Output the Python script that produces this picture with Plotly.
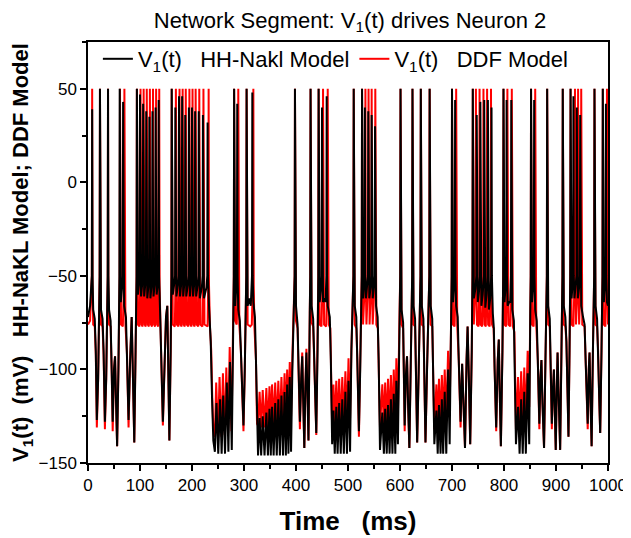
import plotly.graph_objects as go

# ---- data (time in ms, voltage in mV) ----
hh_trace = [
 (0,-72),(4,-66),(7.4,-50),(8,39),(8.7,-50),(10,-68),(13,-73),(15,-90),(17,-127),(19.5,-105),(22.4,-50),(23,50),(23.7,-50),(25,-68),(28,-73),(30,-90),(32.5,-128),(35,-105),(37.9,-50),(38.5,50),(39.2,-50),(40.5,-68),(43.5,-74),(45.5,-100),(47.5,-128),(50,-100),(52,-93),(54,-118),(56,-141),(58.5,-100),(60.4,-50),(61,50),(61.7,-50),(63,-64),(66,-55),(66.9,-50),(67.5,43),(68.2,-50),(69.5,-66),(73,-72),(75,-90),(78,-127),(81,-95),(84,-72),(86.5,-105),(89,-139),(91.5,-90),(93.4,-50),
 (94,50),(94.7,-50),(96,-60),(98,-55),(99.4,-50),(100,47),(100.7,-50),(102,-61),(104,-55),(105.4,-50),(106,42),(106.7,-50),(108,-61),(110,-55),(111.4,-50),(112,38),(112.7,-50),(114,-62),(116,-56),(117.4,-50),(118,35),(118.7,-50),(120,-62),(122,-56),(123.4,-50),(124,38),(124.7,-50),(126,-61),(128,-55),(129.4,-50),(130,40),(130.7,-50),(132,-60),(134,-55),(135.4,-50),(136,44),(136.7,-50),(138.5,-68),(141,-90),(144,-128),(147,-100),(150,-72),(152.5,-66),(154.5,-100),(156.5,-138),(159,-90),(160.4,-50),
 (161,50),(161.7,-50),(163,-60),(166,-54),(167.4,-50),(168,40),(168.7,-50),(170,-61),(173,-55),(174.4,-50),(175,46),(175.7,-50),(177,-61),(179,-55),(180.4,-50),(181,46),(181.7,-50),(183,-61),(185,-55),(186.4,-50),(187,36),(187.7,-50),(189,-61),(192,-55),(193.4,-50),(194,40),(194.7,-50),(196,-61),(198,-55),(199.4,-50),(200,40),(200.7,-50),(202,-61),(204,-55),(205.4,-50),(206,38),(206.7,-50),(208,-61),(211,-55),(212.4,-50),(213,38),(213.7,-50),(215,-62),(219,-56),(220.4,-50),(221,36),(221.7,-50),(223,-62),(228,-56),(229.4,-50),(230,32),(230.7,-50),(233,-68),(236,-85),(238.5,-115),(241,-138),
 (244,-144),(247,-118),(250.5,-145),(254,-116),(257,-145),(260,-114),(263.5,-145),(267,-107),(270,-144),(273,-96),(276.5,-143),(279,-80),(280.4,-50),
 (281,50),(281.7,-50),(283,-66),(286.4,-50),(287,42),(287.7,-50),(289,-68),(292,-74),(294,-90),(296.5,-115),(299,-130),(301.5,-100),(304.4,-50),(305,50),(305.7,-50),(307,-66),(310,-62),(313,-66),(315.4,-50),(316,48),(316.7,-50),(318,-64),(321,-72),(323,-95),(325.5,-130),
 (327,-146),(330,-126),(333,-146),(336,-125),(339.5,-146),(343,-123),(346,-146),(349,-121),(351.5,-146),(354,-120),(357,-146),(360,-118),(363,-146),(366,-116),(369,-146),(372,-114),(375,-146),(378,-112),(380.5,-146),(383,-108),(385.5,-145),(388,-104),(390.5,-144),(393,-100),(395,-70),(397.4,-50),
 (398,50),(398.7,-50),(400,-66),(403,-76),(405,-100),(407.5,-128),(410,-105),(412,-93),(414,-118),(416,-142),(418,-110),(420,-91),(422,-112),(424,-138),(426.5,-70),(427.4,-50),(428,50),(428.7,-50),(430,-66),(433,-73),(435,-90),(437,-115),(439,-134),(441.5,-90),(442.9,-50),(443.5,50),(444.2,-50),(445.5,-64),(448,-58),(449.4,-50),(450,40),(450.7,-50),(452,-64),(455,-62),(457,-64),(458.4,-50),(459,46),(459.7,-50),(461,-66),(465,-72),(467,-95),(469.5,-140),
 (472,-122),(474.5,-145),(477.5,-120),(480,-145),(483,-118),(486,-145),(489,-116),(492,-145),(495,-112),(498,-145),(501,-106),(504,-144),(506.5,-90),(510.4,-50),
 (511,50),(511.7,-50),(513,-66),(516,-72),(518,-95),(521,-133),(523.5,-100),(526.4,-50),(527,50),(527.7,-50),(529,-62),(531.9,-50),(532.5,40),(533.2,-50),(534.5,-62),(537,-56),(538.4,-50),(539,38),(539.7,-50),(541,-62),(543.5,-56),(544.9,-50),(545.5,36),(546.2,-50),(547.5,-62),(550,-56),(551.4,-50),(552,30),(552.7,-50),(554,-66),(557,-72),(559,-95),(561.5,-143),
 (566,-123),(569,-145),(571.5,-121),(574.5,-145),(577,-119),(580,-145),(582.5,-116),(585.5,-145),(588,-113),(591,-145),(593,-106),(596,-140),(598.5,-80),(600.4,-50),
 (601,50),(601.7,-50),(603,-68),(606,-75),(607.5,-100),(609,-130),(611,-105),(613.5,-93),(615.5,-118),(618,-142),(620.5,-100),(623.4,-50),(624,50),(624.7,-50),(626,-66),(629,-73),(631,-100),(633,-139),(636,-100),(639.4,-50),(640,50),(640.7,-50),(642,-66),(645,-73),(647,-100),(649,-139),(652,-100),(656.4,-50),(657,50),(657.7,-50),(659,-66),(662,-73),(664,-100),(666,-140),
 (670,-122),(672.5,-145),(675,-119),(678,-145),(680.5,-116),(683,-145),(686,-112),(689,-145),(692.5,-100),(695.5,-140),(698,-80),(699.4,-50),
 (700,50),(700.7,-50),(702,-64),(705.4,-50),(706,44),(706.7,-50),(708,-66),(711,-72),(713,-95),(716.5,-128),(719.5,-97),(722,-120),(725,-142),(728,-95),(730,-77),(732.5,-105),(735,-140),(738,-90),(739.4,-50),
 (740,50),(740.7,-50),(742,-62),(745,-57),(746.9,-50),(747.5,36),(748.2,-50),(749.5,-64),(752,-58),(753.9,-50),(754.5,43),(755.2,-50),(756.5,-66),(759,-60),(761.4,-50),(762,44),(762.7,-50),(764,-67),(766.5,-60),(768.4,-50),(769,44),(769.7,-50),(771,-68),(773.5,-62),(775.4,-50),(776,40),(776.7,-50),(778.5,-70),(780.5,-78),(782,-100),(785,-131),(788,-95),(790,-84),(792,-115),(794,-141),(797,-90),(798.4,-50),
 (799,50),(799.7,-50),(801,-64),(804.4,-50),(805,44),(805.7,-50),(807,-66),(810,-64),(812,-64),(813.4,-50),(814,44),(814.7,-50),(816,-68),(819,-74),(821,-100),(823,-140),
 (827,-120),(830,-145),(833,-116),(836,-145),(839,-112),(842,-145),(845.5,-102),(848.5,-140),(850.5,-70),(851.4,-50),
 (852,50),(852.7,-50),(854,-64),(857.4,-50),(858,44),(858.7,-50),(860,-68),(863,-74),(865,-95),(868,-129),(870,-105),(872,-95),(874,-118),(877,-142),(880,-90),(882.4,-50),(883,50),(883.7,-50),(885,-66),(888,-73),(890,-100),(892,-129),(894,-112),(896,-100),(898,-125),(899.5,-143),(901.5,-110),(903,-91),(905.5,-118),(908,-143),(910.5,-90),(912.4,-50),
 (913,50),(913.7,-50),(915,-66),(918,-72),(920,-85),(922,-110),(924,-136),(926,-90),(927.4,-50),(928,50),(928.7,-50),(930,-62),(932.9,-50),(933.5,46),(934.2,-50),(935.5,-62),(938,-56),(939.4,-50),(940,40),(940.7,-50),(942,-62),(944.5,-56),(945.9,-50),(946.5,36),(947.2,-50),(948.5,-66),(952,-72),(955,-76),(957,-95),(959,-115),(961,-129),(963,-100),(964.5,-91),(966.5,-118),(968.5,-141),(971,-90),(973.4,-50),
 (974,50),(974.7,-50),(976,-66),(979,-73),(981,-90),(983,-115),(985,-134),(987.5,-90),(989.4,-50),(990,50),(990.7,-50),(992,-64),(995.4,-50),(996,42),(996.7,-50),(998,-64),(1000,-66),
]

ddf_trace = [
 (0,-76),(4,-74),(7.4,-50),(8,50),(8.7,-55),(10,-76),(13,-77),(15,-92),(17,-131),(19.5,-105),(22.4,-50),(23,50),(23.7,-55),(25,-76),(28,-77),(30,-92),(32.5,-132),(35,-105),(37.9,-50),(38.5,50),(39.2,-55),(40.5,-76),(43.5,-77),(45.5,-100),(47.5,-133),(50,-100),(52,-93),(54,-118),(56,-141),(58.5,-100),(60.9,-50),(61.5,50),(62.2,-55),(63.5,-76),(67,-77),(69.4,-50),(70,50),(70.7,-55),(72,-76),(75,-92),(78,-131),(81,-95),(84,-72),(86.5,-105),(89,-139),(91.5,-90),(93.4,-50),
 (94,50),(94.7,-55),(96,-76),(99,-77),(100.4,-50),(101,50),(101.7,-55),(103,-76),(105,-77),(106.4,-50),(107,50),(107.7,-55),(109,-76),(111,-77),(112.4,-50),(113,50),(113.7,-55),(115,-76),(117,-77),(118.4,-50),(119,50),(119.7,-55),(121,-76),(123,-77),(124.4,-50),(125,50),(125.7,-55),(127,-76),(129,-77),(130.4,-50),(131,50),(131.7,-55),(133,-76),(135,-77),(136.4,-50),(137,50),(137.7,-55),(139.5,-78),(142,-100),(144,-130),(147,-100),(150,-72),(152.5,-66),(154.5,-100),(156.5,-138),(159,-90),(160.4,-50),
 (161,50),(161.7,-55),(163,-76),(167,-77),(168.4,-50),(169,50),(169.7,-55),(171,-76),(174,-77),(175.4,-50),(176,50),(176.7,-55),(178,-76),(180,-77),(181.4,-50),(182,50),(182.7,-55),(184,-76),(186,-77),(187.4,-50),(188,50),(188.7,-55),(190,-76),(193,-77),(194.4,-50),(195,50),(195.7,-55),(197,-76),(199,-77),(200.4,-50),(201,50),(201.7,-55),(203,-76),(205,-77),(206.4,-50),(207,50),(207.7,-55),(209,-76),(212,-77),(213.4,-50),(214,50),(214.7,-55),(216,-76),(220,-77),(221.4,-50),(222,50),(222.7,-55),(224,-76),(230,-77),(231.4,-50),(232,50),(232.7,-55),(234.5,-77),(237,-90),(239,-115),(241,-132),
 (244,-136),(246.5,-107),(250,-136),(253,-104),(256.5,-136),(259.5,-102),(263,-135),(266,-99),(269.5,-134),(272.5,-88),(276,-133),(279,-80),(280.4,-50),
 (281,50),(281.7,-55),(283,-74),(286,-76),(288.4,-50),(289,50),(289.7,-55),(291,-76),(294,-90),(296.5,-115),(299,-133),(301.5,-100),(304.4,-50),(305,50),(305.7,-55),(307,-76),(312,-77),(315,-76),(317.4,-50),(318,50),(318.7,-55),(320,-77),(323,-95),(325,-129),
 (327,-130),(330,-112),(333,-131),(336,-111),(339.5,-131),(343,-110),(346,-131),(349,-109),(351.5,-130),(354,-108),(357,-130),(360,-107),(363,-130),(366,-106),(369,-129),(372,-104),(375,-129),(378,-102),(380.5,-128),(383,-100),(385.5,-127),(388,-96),(390.5,-125),(393,-93),(395,-70),(397.4,-50),
 (398,50),(398.7,-55),(400,-74),(403,-78),(405,-100),(407.5,-132),(410,-105),(412,-91),(414,-118),(416,-142),(418,-110),(420,-89),(422,-112),(424,-138),(426.5,-70),(427.4,-50),(428,50),(428.7,-55),(430,-75),(433,-77),(435,-92),(437,-115),(439,-135),(441.5,-90),(442.9,-50),(443.5,50),(444.2,-55),(445.5,-76),(449,-77),(451.4,-50),(452,50),(452.7,-55),(454,-76),(458,-77),(460.4,-50),(461,50),(461.7,-55),(463,-76),(466,-78),(468,-100),(469.5,-132),
 (472,-108),(474.5,-130),(477.5,-106),(480,-130),(483,-105),(486,-130),(489,-104),(492,-129),(495,-101),(498,-128),(501,-94),(504,-126),(506.5,-90),(510.4,-50),
 (511,50),(511.7,-55),(513,-76),(516,-78),(518,-95),(521,-136),(523.5,-100),(526.4,-50),(527,50),(527.7,-55),(529,-76),(532.9,-50),(533.5,50),(534.2,-55),(535.5,-76),(538.9,-50),(539.5,50),(540.2,-55),(541.5,-76),(544.9,-50),(545.5,50),(546.2,-55),(547.5,-76),(551.9,-50),(552.5,50),(553.2,-55),(554.5,-76),(557.5,-78),(559,-95),(561.5,-131),
 (566,-108),(569,-130),(571.5,-107),(574.5,-130),(577,-105),(580,-129),(582.5,-103),(585.5,-129),(588,-100),(591,-128),(593,-94),(596,-125),(598.5,-80),(600.4,-50),
 (601,50),(601.7,-55),(603,-76),(606,-78),(607.5,-100),(609,-133),(611,-105),(613.5,-93),(615.5,-118),(618,-142),(620.5,-100),(623.4,-50),(624,50),(624.7,-55),(626,-76),(629,-77),(631,-100),(633,-139),(636,-100),(639.4,-50),(640,50),(640.7,-55),(642,-76),(645,-77),(647,-100),(649,-139),(652,-100),(656.4,-50),(657,50),(657.7,-55),(659,-76),(662,-77),(664,-100),(666,-132),
 (670,-108),(672.5,-130),(675,-105),(678,-130),(680.5,-103),(683,-129),(686,-100),(689,-128),(692.5,-90),(695.5,-122),(698,-80),(699.4,-50),
 (700,50),(700.7,-55),(702,-76),(705,-77),(707.4,-50),(708,50),(708.7,-55),(710,-76),(713,-95),(716.5,-131),(719.5,-97),(722,-120),(725,-142),(728,-95),(730,-77),(732.5,-105),(735,-140),(738,-90),(739.4,-50),
 (740,50),(740.7,-55),(742,-76),(745.4,-50),(746,50),(746.7,-55),(748,-76),(751,-77),(752.4,-50),(753,50),(753.7,-55),(755,-76),(758,-77),(759.9,-50),(760.5,50),(761.2,-55),(762.5,-76),(765,-77),(766.9,-50),(767.5,50),(768.2,-55),(769.5,-76),(772.5,-77),(774.4,-50),(775,50),(775.7,-55),(777,-76),(780,-78),(782,-100),(785,-133),(788,-95),(790,-84),(792,-115),(794,-141),(797,-90),(798.4,-50),
 (799,50),(799.7,-55),(801,-76),(804,-77),(805.9,-50),(806.5,50),(807.2,-55),(808.5,-76),(812,-77),(814.4,-50),(815,50),(815.7,-55),(817,-77),(820,-80),(821.5,-100),(823,-132),
 (827,-104),(830,-130),(833,-101),(836,-129),(839,-99),(842,-128),(845.5,-90),(848.5,-120),(850.5,-70),(851.4,-50),
 (852,50),(852.7,-55),(854,-76),(857,-77),(859.4,-50),(860,50),(860.7,-55),(862,-76),(865,-95),(868,-132),(870,-105),(872,-95),(874,-118),(877,-142),(880,-90),(882.4,-50),(883,50),(883.7,-55),(885,-76),(888,-77),(890,-100),(892,-132),(894,-112),(896,-100),(898,-125),(899.5,-143),(901.5,-110),(903,-91),(905.5,-118),(908,-143),(910.5,-90),(912.4,-50),
 (913,50),(913.7,-55),(915,-76),(918,-77),(920,-85),(922,-110),(924,-136),(926,-90),(927.4,-50),(928,50),(928.7,-55),(930,-76),(933.5,-77),(935.9,-50),(936.5,50),(937.2,-55),(938.5,-76),(941.9,-50),(942.5,50),(943.2,-55),(944.5,-76),(947.9,-50),(948.5,50),(949.2,-55),(950.5,-76),(955,-77),(957,-95),(959,-115),(961,-132),(963,-100),(964.5,-91),(966.5,-118),(968.5,-141),(971,-90),(973.4,-50),
 (974,50),(974.7,-55),(976,-76),(979,-77),(981,-90),(983,-115),(985,-134),(987.5,-90),(989.4,-50),(990,50),(990.7,-55),(992,-76),(995,-77),(997.4,-50),(998,50),(998.7,-55),(1000,-76),
]

x_tick_vals = [0, 100, 200, 300, 400, 500, 600, 700, 800, 900, 1000]
y_tick_vals = [-150, -100, -50, 0, 50]

title_text = "Network Segment: V<sub>1</sub>(t) drives Neuron 2"
hh_name = "V<sub>1</sub>(t)\u00a0\u00a0\u00a0HH-Nakl Model"
ddf_name = "V<sub>1</sub>(t)\u00a0\u00a0\u00a0DDF Model"
x_title = "<b>Time\u00a0\u00a0\u00a0(ms)</b>"
y_title = "<b>V<sub>1</sub>(t)\u00a0\u00a0(mV)\u00a0\u00a0\u00a0HH-NaKL Model; DDF Model</b>"

FONT = "Liberation Sans, Arial, sans-serif"

# The page body keeps its default 8px margin, so the figure starts 8px in
# from the window's top-left corner; positions below are measured from there.
W, H = 623, 530

fig = go.Figure()
fig.add_trace(go.Scatter(
    x=[p[0] for p in ddf_trace], y=[p[1] for p in ddf_trace],
    mode="lines", name=ddf_name, line=dict(color="#ff0000", width=2),
    legendrank=2))
fig.add_trace(go.Scatter(
    x=[p[0] for p in hh_trace], y=[p[1] for p in hh_trace],
    mode="lines", name=hh_name, line=dict(color="#000000", width=2),
    legendrank=1))

axis_common = dict(
    showline=True, linecolor="black", linewidth=1.5, mirror=True,
    showgrid=False, zeroline=False, ticks="outside", ticklen=6, tickwidth=1.5,
    tickcolor="black", tickfont=dict(family=FONT, size=17, color="black"),
    automargin=False,
)

fig.update_layout(
    width=W, height=H,
    margin=dict(l=80, r=23, t=34, b=75),
    paper_bgcolor="white", plot_bgcolor="white",
    font=dict(family=FONT, color="black"),
    title=dict(text=title_text, x=342 / W, xanchor="center", xref="container",
               y=1 - 12 / H, yref="container", yanchor="middle",
               font=dict(family=FONT, size=22, color="black")),
    xaxis=dict(range=[0, 1000], tickvals=x_tick_vals,
               minor=dict(dtick=50, ticklen=4, ticks="outside", tickcolor="black", tickwidth=1.5),
               title=dict(text=x_title, font=dict(family=FONT, size=26), standoff=18),
               **axis_common),
    yaxis=dict(range=[-150, 75], tickvals=y_tick_vals,
               minor=dict(dtick=25, ticklen=4, ticks="outside", tickcolor="black", tickwidth=1.5),
               title=dict(text=y_title, font=dict(family=FONT, size=22), standoff=12),
               **axis_common),
    legend=dict(orientation="h", x=0.019, y=1 - 17 / 421, xanchor="left", yanchor="middle",
                bgcolor="rgba(0,0,0,0)", font=dict(family=FONT, size=22, color="black"),
                traceorder="normal"),
    showlegend=True,
)

fig.write_html("out.html")
